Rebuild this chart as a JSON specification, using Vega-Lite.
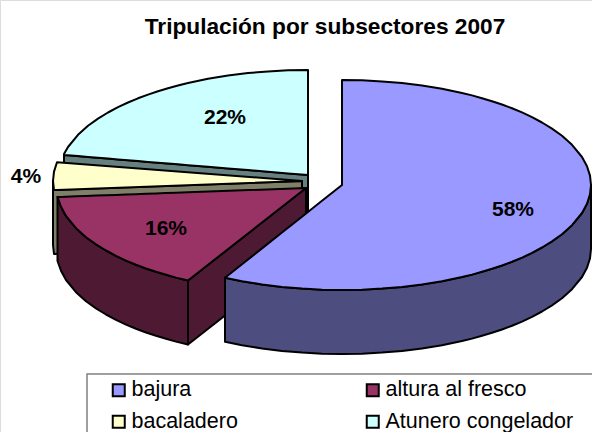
{"$schema":"https://vega.github.io/schema/vega-lite/v6.json","width":592,"height":432,"autosize":"none","padding":0,"background":"white",
"title":{"text":"Tripulación por subsectores 2007","font":"Liberation Sans","fontSize":22.7,"fontWeight":"bold","color":"black","anchor":"middle","frame":"group","dx":29,"offset":-39},
"datasets":{"caras":[
{"cara":"Atunero lateral","x":64,"y":155,"y2":219},{"cara":"Atunero lateral","x":308,"y":175,"y2":239},
{"cara":"Atunero congelador","x":64,"y":154,"y2":155},{"cara":"Atunero congelador","x":68,"y":147,"y2":155.3},{"cara":"Atunero congelador","x":78,"y":134.8,"y2":156.1},{"cara":"Atunero congelador","x":88,"y":125.8,"y2":157},{"cara":"Atunero congelador","x":98,"y":118.6,"y2":157.8},{"cara":"Atunero congelador","x":108,"y":112.5,"y2":158.6},{"cara":"Atunero congelador","x":118,"y":107.1,"y2":159.4},{"cara":"Atunero congelador","x":128,"y":102.5,"y2":160.2},{"cara":"Atunero congelador","x":138,"y":98.3,"y2":161.1},{"cara":"Atunero congelador","x":148,"y":94.6,"y2":161.9},{"cara":"Atunero congelador","x":158,"y":91.2,"y2":162.7},{"cara":"Atunero congelador","x":168,"y":88.2,"y2":163.5},{"cara":"Atunero congelador","x":178,"y":85.5,"y2":164.3},{"cara":"Atunero congelador","x":188,"y":83,"y2":165.2},{"cara":"Atunero congelador","x":208,"y":78.8,"y2":166.8},{"cara":"Atunero congelador","x":228,"y":75.6,"y2":168.4},{"cara":"Atunero congelador","x":248,"y":73.1,"y2":170.1},{"cara":"Atunero congelador","x":268,"y":71.4,"y2":171.7},{"cara":"Atunero congelador","x":288,"y":70.3,"y2":173.4},{"cara":"Atunero congelador","x":308,"y":70,"y2":175},
{"cara":"bacaladero lateral","x":53,"y":181,"y2":245},{"cara":"bacaladero lateral","x":54,"y":190,"y2":254},{"cara":"bacaladero lateral","x":302,"y":181,"y2":245},
{"cara":"bacaladero","x":53,"y":181,"y2":181},{"cara":"bacaladero","x":54,"y":171.6,"y2":190},{"cara":"bacaladero","x":57,"y":162.2,"y2":189.9},{"cara":"bacaladero","x":302,"y":181,"y2":181},
{"cara":"altura lateral exterior","x":57.5,"y":197,"y2":261},{"cara":"altura lateral exterior","x":61,"y":206.75,"y2":270.75},{"cara":"altura lateral exterior","x":66,"y":216,"y2":280},{"cara":"altura lateral exterior","x":76,"y":228.2,"y2":292.2},{"cara":"altura lateral exterior","x":86,"y":237.2,"y2":301.2},{"cara":"altura lateral exterior","x":96,"y":244.4,"y2":308.4},{"cara":"altura lateral exterior","x":106,"y":250.5,"y2":314.5},{"cara":"altura lateral exterior","x":116,"y":255.9,"y2":319.9},{"cara":"altura lateral exterior","x":126,"y":260.6,"y2":324.6},{"cara":"altura lateral exterior","x":136,"y":264.7,"y2":328.7},{"cara":"altura lateral exterior","x":146,"y":268.5,"y2":332.5},{"cara":"altura lateral exterior","x":156,"y":271.8,"y2":335.8},{"cara":"altura lateral exterior","x":166,"y":274.8,"y2":338.8},{"cara":"altura lateral exterior","x":176,"y":277.6,"y2":341.6},{"cara":"altura lateral exterior","x":188,"y":280.5,"y2":344.5},
{"cara":"altura lateral radial","x":188,"y":280.5,"y2":344.5},{"cara":"altura lateral radial","x":306,"y":188,"y2":252},
{"cara":"altura al fresco","x":57.5,"y":197,"y2":197},{"cara":"altura al fresco","x":61,"y":196.9,"y2":206.75},{"cara":"altura al fresco","x":66,"y":196.7,"y2":216},{"cara":"altura al fresco","x":76,"y":196.3,"y2":228.2},{"cara":"altura al fresco","x":86,"y":196,"y2":237.2},{"cara":"altura al fresco","x":96,"y":195.6,"y2":244.4},{"cara":"altura al fresco","x":106,"y":195.2,"y2":250.5},{"cara":"altura al fresco","x":116,"y":194.9,"y2":255.9},{"cara":"altura al fresco","x":126,"y":194.5,"y2":260.6},{"cara":"altura al fresco","x":136,"y":194.2,"y2":264.7},{"cara":"altura al fresco","x":146,"y":193.8,"y2":268.5},{"cara":"altura al fresco","x":156,"y":193.4,"y2":271.8},{"cara":"altura al fresco","x":166,"y":193.1,"y2":274.8},{"cara":"altura al fresco","x":176,"y":192.7,"y2":277.6},{"cara":"altura al fresco","x":188,"y":192.3,"y2":280.5},{"cara":"altura al fresco","x":306,"y":188,"y2":188},
{"cara":"bajura lateral","x":225,"y":277.7,"y2":341.7},{"cara":"bajura lateral","x":242,"y":281.2,"y2":345.2},{"cara":"bajura lateral","x":262,"y":284.4,"y2":348.4},{"cara":"bajura lateral","x":282,"y":286.9,"y2":350.9},{"cara":"bajura lateral","x":302,"y":288.6,"y2":352.6},{"cara":"bajura lateral","x":322,"y":289.7,"y2":353.7},{"cara":"bajura lateral","x":342,"y":290,"y2":354},{"cara":"bajura lateral","x":362,"y":289.7,"y2":353.7},{"cara":"bajura lateral","x":382,"y":288.6,"y2":352.6},{"cara":"bajura lateral","x":402,"y":286.9,"y2":350.9},{"cara":"bajura lateral","x":422,"y":284.4,"y2":348.4},{"cara":"bajura lateral","x":442,"y":281.2,"y2":345.2},{"cara":"bajura lateral","x":462,"y":277,"y2":341},{"cara":"bajura lateral","x":472,"y":274.6,"y2":338.6},{"cara":"bajura lateral","x":482,"y":271.8,"y2":335.8},{"cara":"bajura lateral","x":492,"y":268.8,"y2":332.8},{"cara":"bajura lateral","x":502,"y":265.5,"y2":329.5},{"cara":"bajura lateral","x":512,"y":261.7,"y2":325.7},{"cara":"bajura lateral","x":522,"y":257.6,"y2":321.6},{"cara":"bajura lateral","x":532,"y":252.9,"y2":316.9},{"cara":"bajura lateral","x":542,"y":247.5,"y2":311.5},{"cara":"bajura lateral","x":552,"y":241.4,"y2":305.4},{"cara":"bajura lateral","x":562,"y":234.2,"y2":298.2},{"cara":"bajura lateral","x":572,"y":225.2,"y2":289.2},{"cara":"bajura lateral","x":582,"y":213,"y2":277},{"cara":"bajura lateral","x":587,"y":203.75,"y2":267.75},{"cara":"bajura lateral","x":590,"y":194.4,"y2":258.4},{"cara":"bajura lateral","x":591,"y":185,"y2":249},
{"cara":"bajura","x":225,"y":277.7,"y2":277.7},{"cara":"bajura","x":242,"y":264.2,"y2":281.2},{"cara":"bajura","x":262,"y":248.4,"y2":284.4},{"cara":"bajura","x":282,"y":232.5,"y2":286.9},{"cara":"bajura","x":302,"y":216.7,"y2":288.6},{"cara":"bajura","x":322,"y":200.8,"y2":289.7},{"cara":"bajura","x":342,"y":185,"y2":290},{"cara":"bajura","x":342.01,"y":80,"y2":290},{"cara":"bajura","x":362,"y":80.3,"y2":289.7},{"cara":"bajura","x":382,"y":81.4,"y2":288.6},{"cara":"bajura","x":402,"y":83.1,"y2":286.9},{"cara":"bajura","x":422,"y":85.6,"y2":284.4},{"cara":"bajura","x":442,"y":88.8,"y2":281.2},{"cara":"bajura","x":462,"y":93,"y2":277},{"cara":"bajura","x":472,"y":95.4,"y2":274.6},{"cara":"bajura","x":482,"y":98.2,"y2":271.8},{"cara":"bajura","x":492,"y":101.2,"y2":268.8},{"cara":"bajura","x":502,"y":104.5,"y2":265.5},{"cara":"bajura","x":512,"y":108.3,"y2":261.7},{"cara":"bajura","x":522,"y":112.4,"y2":257.6},{"cara":"bajura","x":532,"y":117.1,"y2":252.9},{"cara":"bajura","x":542,"y":122.5,"y2":247.5},{"cara":"bajura","x":552,"y":128.6,"y2":241.4},{"cara":"bajura","x":562,"y":135.8,"y2":234.2},{"cara":"bajura","x":572,"y":144.8,"y2":225.2},{"cara":"bajura","x":582,"y":157,"y2":213},{"cara":"bajura","x":587,"y":166.25,"y2":203.75},{"cara":"bajura","x":590,"y":175.6,"y2":194.4},{"cara":"bajura","x":591,"y":185,"y2":185}
]},
"layer":[
{"data":{"values":[{"x":87,"x2":610,"y":374,"y2":450}]},"mark":{"type":"rect","fill":null,"stroke":"#808080","strokeWidth":1.5,"clip":false},
"encoding":{"x":{"field":"x","type":"quantitative","scale":{"domain":[0,592]},"axis":null},"x2":{"field":"x2"},"y":{"field":"y","type":"quantitative","scale":{"domain":[432,0]},"axis":null},"y2":{"field":"y2"}}},
{"data":{"name":"caras"},"mark":{"type":"area","stroke":"black","strokeWidth":2,"strokeJoin":"round","opacity":1,"interpolate":"linear"},
"encoding":{"x":{"field":"x","type":"quantitative","scale":{"domain":[0,592]},"axis":null},"y":{"field":"y","type":"quantitative","scale":{"domain":[432,0]},"axis":null},"y2":{"field":"y2"},
"color":{"field":"cara","type":"nominal","sort":null,"scale":{"domain":["bajura","altura al fresco","bacaladero","Atunero congelador","bajura lateral","altura lateral exterior","altura lateral radial","bacaladero lateral","Atunero lateral"],"range":["#9999FF","#993366","#FFFFCC","#CCFFFF","#4D4D80","#4D1933","#4D1933","#80806A","#668080"]},
"legend":{"values":["bajura","bacaladero","altura al fresco","Atunero congelador"],"title":null,"orient":"none","legendX":108,"legendY":379,"columns":2,"symbolType":"square","symbolSize":144,"symbolStrokeColor":"black","symbolStrokeWidth":2,"symbolOpacity":1,"labelFont":"Liberation Sans","labelFontSize":21.5,"labelColor":"black","labelOffset":2,"columnPadding":124,"rowPadding":9,"padding":0,"labelLimit":300}}}},
{"data":{"values":[{"nombre":"bajura","cuota":"58%","x":513,"y":210},{"nombre":"altura al fresco","cuota":"16%","x":166,"y":229},{"nombre":"bacaladero","cuota":"4%","x":26,"y":177},{"nombre":"Atunero congelador","cuota":"22%","x":225,"y":118}]},"mark":{"type":"text","font":"Liberation Sans","fontWeight":"bold","fontSize":21,"color":"black","align":"center","baseline":"middle"},
"encoding":{"x":{"field":"x","type":"quantitative","scale":{"domain":[0,592]},"axis":null},"y":{"field":"y","type":"quantitative","scale":{"domain":[432,0]},"axis":null},"text":{"field":"cuota","type":"nominal"}}}
]}
